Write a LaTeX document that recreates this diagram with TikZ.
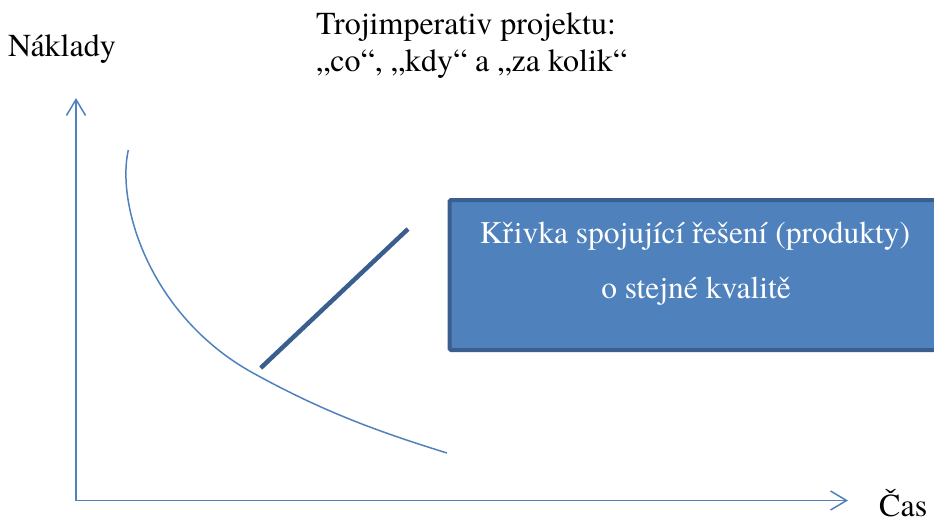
\documentclass[tikz,border=0pt]{standalone}
\usepackage{fontspec}
\setmainfont{texgyretermes}[Extension=.otf,UprightFont=*-regular]
\newfontfamily\tnr{texgyretermes}[Extension=.otf,UprightFont=*-regular]
\usetikzlibrary{arrows.meta}
\definecolor{axisblue}{HTML}{4F81BD}
\definecolor{darkblue}{HTML}{3A5F8E}
\begin{document}
\begin{tikzpicture}[x=1pt,y=-1pt,
  axisline/.style={draw=axisblue,line width=1.5pt,{Straight Barb[length=16pt,width=19pt,line width=1.5pt]}-{Straight Barb[length=16pt,width=19pt,line width=1.5pt]}},
  curveline/.style={draw=axisblue,line width=1.5pt},
  thickline/.style={draw=darkblue,line width=4.5pt},
  labeltext/.style={font=\tnr\fontsize{32}{36}\selectfont,inner sep=0pt,anchor=base west},
  boxtext/.style={font=\tnr\fontsize{31.5}{36}\selectfont,text=white,inner sep=0pt,anchor=base}
]
\useasboundingbox (0,0) rectangle (934,524);
% box
\path[fill=axisblue,draw=darkblue,line width=4pt,rounded corners=1.5pt] (449.5,200) rectangle (950,350);
\node[boxtext] (boxa) at (695,243) {Křivka spojující řešení (produkty)};
\node[boxtext] (boxb) at (696,298) {o stejné kvalitě};
% axes
\coordinate (ytop) at (76,98);
\coordinate (origin) at (76,500.5);
\coordinate (xend) at (848,500.5);
\draw[axisline] (ytop) -- (origin) -- (xend);
% curve
\coordinate (ca) at (128.3,150);
\coordinate (cb) at (253,373);
\coordinate (cc) at (447,453);
\draw[curveline] (ca) .. controls (116,205) and (150,316) .. (cb)
  .. controls (323,411.5) and (377,431.3) .. (cc);
% thick line
\coordinate (tla) at (260.7,368);
\coordinate (tlb) at (408,229);
\draw[thickline] (tla) -- (tlb);
% labels
\node[labeltext] (naklady) at (8,57) {Náklady};
\node[labeltext] (title1) at (316,35) {Trojimperativ projektu:};
\node[labeltext] (title2) at (316,72) {„co“, „kdy“ a „za kolik“};
\node[labeltext] (cas) at (879,516) {Čas};
\end{tikzpicture}
\end{document}
